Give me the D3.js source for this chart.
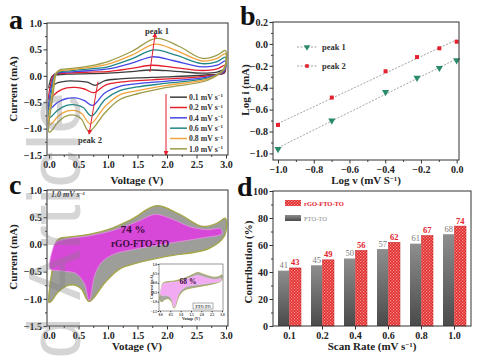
<!DOCTYPE html>
<html><head><meta charset="utf-8">
<script src="https://cdn.jsdelivr.net/npm/d3@7"></script>
<style>body{margin:0;background:#fff}svg{display:block}</style></head>
<body><svg id="fig" width="484" height="362"></svg>
<script>
// ---------- DATA ----------
const scanRates = ["0.1", "0.2", "0.4", "0.6", "0.8", "1.0"];
const cvColors = ["#3c3c3c", "#e4202c", "#4646e6", "#1f8686", "#f0a43c", "#9c9c48"];
// CV loops (V, mA), anodic sweep 0 -> 3 V then cathodic back
const cv01 = [[0.0,-0.23],[0.02,-0.1],[0.06,0.0],[0.15,0.02],[0.3,0.03],[0.7,0.04],[1.0,0.05],[1.4,0.08],[1.72,0.11],[2.1,0.09],[2.6,0.05],[2.85,0.07],[2.99,0.12],[2.97,0.05],[2.7,0.02],[2.0,-0.02],[1.5,-0.04],[1.2,-0.06],[0.95,-0.09],[0.78,-0.18],[0.65,-0.12],[0.45,-0.1],[0.3,-0.1],[0.15,-0.13],[0.05,-0.2]];
const cv02 = [[0.0,-0.45],[0.03,-0.15],[0.08,0.02],[0.15,0.04],[0.3,0.05],[0.7,0.07],[1.0,0.08],[1.4,0.14],[1.74,0.2],[2.1,0.16],[2.6,0.1],[2.85,0.13],[2.99,0.2],[2.97,0.07],[2.7,0.0],[2.0,-0.06],[1.5,-0.09],[1.2,-0.12],[0.95,-0.18],[0.76,-0.32],[0.6,-0.25],[0.45,-0.22],[0.3,-0.23],[0.15,-0.3],[0.05,-0.4]];
const cv04 = [[0.0,-0.64],[0.04,-0.2],[0.1,0.03],[0.18,0.06],[0.3,0.07],[0.7,0.1],[1.0,0.13],[1.4,0.24],[1.76,0.36],[2.1,0.29],[2.6,0.17],[2.85,0.2],[2.99,0.28],[2.97,0.09],[2.7,-0.02],[2.0,-0.1],[1.5,-0.15],[1.2,-0.2],[0.95,-0.32],[0.74,-0.56],[0.6,-0.47],[0.45,-0.42],[0.3,-0.43],[0.15,-0.5],[0.05,-0.6]];
const cv06 = [[0.0,-0.8],[0.05,-0.25],[0.11,0.04],[0.2,0.08],[0.3,0.09],[0.7,0.13],[1.0,0.17],[1.4,0.32],[1.78,0.49],[2.15,0.39],[2.6,0.23],[2.85,0.27],[2.99,0.35],[2.97,0.11],[2.7,-0.04],[2.0,-0.14],[1.5,-0.21],[1.2,-0.28],[0.95,-0.45],[0.72,-0.76],[0.58,-0.6],[0.45,-0.55],[0.3,-0.56],[0.15,-0.65],[0.05,-0.76]];
const cv08 = [[0.0,-0.93],[0.06,-0.3],[0.12,0.05],[0.2,0.1],[0.3,0.11],[0.7,0.16],[1.0,0.22],[1.4,0.39],[1.8,0.6],[2.15,0.48],[2.6,0.28],[2.85,0.33],[2.99,0.42],[2.97,0.13],[2.7,-0.06],[2.0,-0.18],[1.5,-0.28],[1.2,-0.36],[0.95,-0.58],[0.7,-0.91],[0.56,-0.72],[0.45,-0.66],[0.3,-0.67],[0.15,-0.77],[0.05,-0.9]];
const cv10 = [[0.0,-1.07],[0.07,-0.35],[0.13,0.06],[0.2,0.12],[0.3,0.13],[0.7,0.19],[1.0,0.27],[1.4,0.46],[1.82,0.71],[2.2,0.56],[2.6,0.33],[2.85,0.39],[2.99,0.48],[2.97,0.15],[2.7,-0.08],[2.0,-0.22],[1.5,-0.34],[1.2,-0.45],[0.95,-0.7],[0.68,-1.05],[0.55,-0.82],[0.45,-0.75],[0.3,-0.76],[0.15,-0.88],[0.05,-1.03]];
const cvLoops = [cv01, cv02, cv04, cv06, cv08, cv10];
const peak1Arrow = [[1.71,0.07],[1.8,0.8]];
const peak2Arrow = [[0.83,-0.11],[0.68,-1.1]];

// panel b
const logV = [-1.0, -0.699, -0.398, -0.222, -0.097, 0.0];
const logIPeak1 = [-0.96, -0.70, -0.44, -0.31, -0.22, -0.15];
const logIPeak2 = [-0.74, -0.49, -0.25, -0.12, -0.04, 0.02];

// panel c (1.0 mV/s): total = cv10, capacitive part of rGO-FTO-TO
const capRgo = [[0.02,-0.45],[0.06,-0.1],[0.12,0.04],[0.3,0.1],[0.7,0.16],[1.1,0.26],[1.5,0.42],[1.8,0.55],[2.1,0.46],[2.4,0.32],[2.7,0.27],[2.9,0.29],[2.93,0.2],[2.6,0.12],[2.2,0.05],[1.8,-0.02],[1.4,-0.1],[1.1,-0.18],[0.9,-0.32],[0.78,-0.55],[0.68,-1.03],[0.6,-0.72],[0.45,-0.53],[0.3,-0.5],[0.15,-0.48]];
const insetTotal = [[0.0,-0.95],[0.06,-0.35],[0.14,-0.02],[0.3,0.05],[0.7,0.1],[1.2,0.25],[1.6,0.45],[1.82,0.55],[2.2,0.42],[2.6,0.3],[2.85,0.33],[2.99,0.42],[2.97,0.12],[2.7,-0.02],[2.0,-0.18],[1.5,-0.28],[1.2,-0.38],[0.95,-0.65],[0.68,-1.35],[0.55,-1.0],[0.4,-0.85],[0.25,-0.88],[0.1,-1.0]];
const insetCap = [[0.03,-0.65],[0.08,-0.2],[0.16,-0.05],[0.4,0.0],[0.8,0.05],[1.2,0.17],[1.6,0.33],[1.82,0.4],[2.2,0.28],[2.6,0.18],[2.85,0.2],[2.95,0.25],[2.93,0.1],[2.6,0.02],[2.0,-0.08],[1.5,-0.15],[1.2,-0.25],[0.95,-0.5],[0.68,-1.3],[0.55,-0.85],[0.4,-0.7],[0.25,-0.68],[0.1,-0.68]];

// panel d
const rateCats = ["0.1", "0.2", "0.4", "0.6", "0.8", "1.0"];
const contribFTO = [41, 45, 50, 57, 61, 68];
const contribRGO = [43, 49, 56, 62, 67, 74];

// ---------- DRAW ----------
const FONT = "'Liberation Serif','Times New Roman',serif";
const svg = d3.select("#fig").attr("font-family", FONT);
const defs = svg.append("defs");
const f1 = d3.format(".1f");

defs.append("marker").attr("id","arr").attr("viewBox","0 0 10 10").attr("refX",8).attr("refY",5)
  .attr("markerWidth",5).attr("markerHeight",5).attr("orient","auto-start-reverse")
  .append("path").attr("d","M0,0L10,5L0,10z").attr("fill","#e4202c");
const pat = defs.append("pattern").attr("id","chk").attr("width",3).attr("height",3).attr("patternUnits","userSpaceOnUse");
pat.append("rect").attr("width",3).attr("height",3).attr("fill","#e22a2a");
pat.append("rect").attr("width",1.2).attr("height",1.2).attr("fill","#f59a9a");
pat.append("rect").attr("x",1.5).attr("y",1.5).attr("width",1.2).attr("height",1.2).attr("fill","#f59a9a");
const grad = defs.append("linearGradient").attr("id","gry").attr("x1",0).attr("y1",0).attr("x2",0).attr("y2",1);
grad.append("stop").attr("offset","0%").attr("stop-color","#8e8e8e");
grad.append("stop").attr("offset","100%").attr("stop-color","#4a4a4a");

function drawAxes(g, x, y, o) {
  const [xa, xb] = x.range(), [ya, yb] = y.range();
  const fs = o.fs || 10;
  const tl = o.tl || 3.5;
  if (o.xMinor) g.append("g").attr("transform",`translate(0,${ya})`)
    .call(d3.axisBottom(x).tickValues(o.xMinor).tickSize(tl*0.55).tickFormat(""))
    .call(s=>s.select(".domain").remove());
  if (o.yMinor) g.append("g").attr("transform",`translate(${xa},0)`)
    .call(d3.axisLeft(y).tickValues(o.yMinor).tickSize(tl*0.55).tickFormat(""))
    .call(s=>s.select(".domain").remove());
  const gx = g.append("g").attr("transform",`translate(0,${ya})`)
    .call(d3.axisBottom(x).tickValues(o.xTicks).tickSize(tl).tickPadding(o.pad||2).tickFormat(o.xFmt));
  const gy = g.append("g").attr("transform",`translate(${xa},0)`)
    .call(d3.axisLeft(y).tickValues(o.yTicks).tickSize(tl).tickPadding(o.pad||1.5).tickFormat(o.yFmt));
  [gx, gy].forEach(s => {
    s.select(".domain").remove();
    s.selectAll("text").attr("font-family", FONT).attr("font-weight","bold").attr("font-size", fs).attr("fill","#222");
  });
  g.selectAll(".tick line").attr("stroke","#333").attr("stroke-width", o.sw || 1);
  g.append("rect").attr("x",xa).attr("y",yb).attr("width",xb-xa).attr("height",ya-yb)
    .attr("fill","none").attr("stroke","#333").attr("stroke-width", o.sw || 1);
}
function title(g, txt, x, y, rot, size, sup, after) {
  const t = g.append("text").attr("transform",`translate(${x},${y})${rot?" rotate(-90)":""}`)
    .attr("text-anchor","middle").attr("font-weight","bold").attr("font-size",size||11).attr("fill","#222");
  t.append("tspan").text(txt);
  if (sup) {
    t.append("tspan").text(sup).attr("dy",-3.5).attr("font-size",(size||11)*0.62);
    t.append("tspan").text(after).attr("dy",3.5);
  }
  return t;
}
function letter(txt, x, y) {
  svg.append("text").attr("x",x).attr("y",y).text(txt).attr("font-size",28).attr("font-weight","bold").attr("fill","#111");
}
const loop = (x, y) => d3.line().x(d=>x(d[0])).y(d=>y(d[1])).curve(d3.curveCatmullRomClosed.alpha(0.5));
const vTicks = [0,0.5,1,1.5,2,2.5,3], vMinor = d3.range(0.25,3,0.5);
const iTicks = [-1.5,-1,-0.5,0,0.5,1], iMinor = d3.range(-1.25,1,0.5);

// ===== Panel a =====
{
  const g = svg.append("g");
  const x = d3.scaleLinear().domain([-0.034,3.034]).range([47,228]);
  const y = d3.scaleLinear().domain([-1.5,1.0]).range([155,23]);
  const ln = loop(x,y);
  cvLoops.forEach((d,i)=> g.append("path").attr("d",ln(d)).attr("fill","none").attr("stroke",cvColors[i]).attr("stroke-width",1.3));
  [peak1Arrow, peak2Arrow].forEach(a => g.append("line")
    .attr("x1",x(a[0][0])).attr("y1",y(a[0][1])).attr("x2",x(a[1][0])).attr("y2",y(a[1][1]))
    .attr("stroke","#e4202c").attr("stroke-width",1).attr("marker-end","url(#arr)"));
  g.append("text").attr("x",157).attr("y",34).attr("text-anchor","middle").attr("font-size",8.5).attr("font-weight","bold").attr("fill","#333").text("peak 1");
  g.append("text").attr("x",90).attr("y",143).attr("text-anchor","middle").attr("font-size",8.5).attr("font-weight","bold").attr("fill","#333").text("peak 2");
  const ly = d3.scaleBand().domain(scanRates).range([92,154]);
  g.append("line").attr("x1",166).attr("x2",166).attr("y1",ly(scanRates[0])+2).attr("y2",ly(scanRates[5])+ly.bandwidth()+1)
    .attr("stroke","#e4202c").attr("stroke-width",1).attr("marker-end","url(#arr)");
  scanRates.forEach((r,i)=>{
    const yy = ly(r)+ly.bandwidth()/2;
    g.append("line").attr("x1",170).attr("x2",187).attr("y1",yy).attr("y2",yy).attr("stroke",cvColors[i]).attr("stroke-width",1.5);
    const t = g.append("text").attr("x",189).attr("y",yy+2.8).attr("font-size",7.8).attr("font-weight","bold").attr("fill","#333");
    t.append("tspan").text(r+" mV s");
    t.append("tspan").text("−1").attr("dy",-2.5).attr("font-size",5);
  });
  drawAxes(g,x,y,{xTicks:vTicks,xMinor:vMinor,yTicks:iTicks,yMinor:iMinor,xFmt:f1,yFmt:f1});
  title(g,"Current (mA)",17,89,true);
  title(g,"Voltage (V)",137,184,false);
}
letter("a",9,29);

// ===== Panel b =====
{
  const g = svg.append("g");
  const x = d3.scaleLinear().domain([-1.028,0.013]).range([273,459]);
  const y = d3.scaleLinear().domain([-1.06,0.2]).range([160,22]);
  const series = [
    {vals: logIPeak1, color:"#2a8a6c", sym:d3.symbolTriangle, rot:180, size:22, name:"peak 1"},
    {vals: logIPeak2, color:"#e4202c", sym:d3.symbolSquare, rot:0, size:16, name:"peak 2"}
  ];
  series.forEach((s,k)=>{
    const mx = d3.mean(logV), my = d3.mean(s.vals);
    const b = d3.sum(logV,(v,i)=>(v-mx)*(s.vals[i]-my)) / d3.sum(logV,v=>(v-mx)*(v-mx));
    const a = my - b*mx;
    g.append("line").attr("x1",x(-1)).attr("x2",x(0)).attr("y1",y(a-b)).attr("y2",y(a))
      .attr("stroke","#9a9a9a").attr("stroke-width",0.9).attr("stroke-dasharray","2,1.5");
    logV.forEach((v,i)=> g.append("path").attr("d",d3.symbol(s.sym,s.size)())
      .attr("transform",`translate(${x(v)},${y(s.vals[i])}) rotate(${s.rot})`).attr("fill",s.color));
    const yy = 47 + k*19;
    g.append("line").attr("x1",297).attr("x2",317).attr("y1",yy).attr("y2",yy).attr("stroke","#9a9a9a").attr("stroke-width",0.9).attr("stroke-dasharray","2,1.5");
    g.append("path").attr("d",d3.symbol(s.sym,s.size*0.8)()).attr("transform",`translate(307,${yy}) rotate(${s.rot})`).attr("fill",s.color);
    g.append("text").attr("x",322).attr("y",yy+3).attr("font-size",8.5).attr("font-weight","bold").attr("fill","#333").text(s.name);
  });
  drawAxes(g,x,y,{xTicks:d3.range(-1,0.01,0.2),xMinor:d3.range(-0.9,0,0.2),yTicks:d3.range(-1,0.21,0.2),yMinor:d3.range(-0.9,0.2,0.2),xFmt:f1,yFmt:f1});
  title(g,"Log i (mA)",249,90,true);
  title(g,"Log v (mV S",366,184,false,11,"−1",")");
}
letter("b",240,25);

// ===== Panel c =====
{
  const g = svg.append("g");
  const x = d3.scaleLinear().domain([-0.034,3.034]).range([47,228]);
  const y = d3.scaleLinear().domain([-1.5,1.0]).range([326,190]);
  const ln = loop(x,y);
  g.append("path").attr("d",ln(cv10)).attr("fill","#9d9d9a").attr("stroke","#a6a64a").attr("stroke-width",1.4);
  g.append("path").attr("d",ln(capRgo)).attr("fill","#d848d8").attr("stroke","#e890e8").attr("stroke-width",0.8);
  g.append("text").attr("x",133).attr("y",233).attr("text-anchor","middle").attr("font-size",11).attr("font-weight","bold").attr("fill","#3a0c3a").text("74 %");
  g.append("text").attr("x",140).attr("y",247).attr("text-anchor","middle").attr("font-size",9.5).attr("font-weight","bold").attr("fill","#3a0c3a").text("rGO-FTO-TO");
  const t = g.append("text").attr("x",51).attr("y",197).attr("font-size",8).attr("font-weight","bold").attr("font-style","italic").attr("fill","#333");
  t.append("tspan").text("1.0 mV s");
  t.append("tspan").text("−1").attr("dy",-2.5).attr("font-size",5);
  const ix = d3.scaleLinear().domain([-0.05,3.05]).range([159,223]);
  const iy = d3.scaleLinear().domain([-1.5,1.0]).range([311,264]);
  g.append("rect").attr("x",159).attr("y",264).attr("width",64).attr("height",47).attr("fill","#fff");
  const iln = loop(ix,iy);
  g.append("path").attr("d",iln(insetTotal)).attr("fill","#a8a8a4").attr("stroke","#a6a64a").attr("stroke-width",0.8);
  g.append("path").attr("d",iln(insetCap)).attr("fill","#f2aaf2").attr("stroke","#f6c8f6").attr("stroke-width",0.5);
  g.append("text").attr("x",188).attr("y",284).attr("text-anchor","middle").attr("font-size",7.5).attr("font-weight","bold").attr("fill","#3a0c3a").text("68 %");
  g.append("rect").attr("x",193).attr("y",303).attr("width",20).attr("height",6).attr("fill","#fff").attr("stroke","#333").attr("stroke-width",0.4);
  g.append("text").attr("x",203).attr("y",307.8).attr("text-anchor","middle").attr("font-size",4).attr("font-weight","bold").attr("fill","#333").text("FTO-TO");
  drawAxes(g.append("g"),ix,iy,{xTicks:vTicks,yTicks:iTicks,xFmt:f1,yFmt:f1,fs:3.4,tl:1.3,sw:0.5,pad:0.8});
  title(g,"Current (mA)",153,287,true,4);
  title(g,"Votage (V)",191,320,false,4);
  drawAxes(g,x,y,{xTicks:vTicks,xMinor:vMinor,yTicks:iTicks,yMinor:iMinor,xFmt:f1,yFmt:f1});
  title(g,"Current (mA)",17,257,true);
  title(g,"Votage (V)",137,350,false);
}
letter("c",9,194);

// ===== Panel d =====
{
  const g = svg.append("g");
  const x = d3.scaleBand().domain(rateCats).range([273,471]);
  const y = d3.scaleLinear().domain([0,100]).range([326,191]);
  const sub = d3.scaleBand().domain(["FTO","RGO"]).range([-11.5,11.5]);
  rateCats.forEach((c,i)=>{
    const cx = x(c)+x.bandwidth()/2;
    g.append("rect").attr("x",cx+sub("FTO")).attr("y",y(contribFTO[i])).attr("width",sub.bandwidth()-0.5).attr("height",y(0)-y(contribFTO[i]))
      .attr("fill","url(#gry)");
    g.append("rect").attr("x",cx+sub("RGO")).attr("y",y(contribRGO[i])).attr("width",sub.bandwidth()).attr("height",y(0)-y(contribRGO[i]))
      .attr("fill","url(#chk)").attr("stroke","#c01c1c").attr("stroke-width",0.5);
    g.append("text").attr("x",cx+sub("FTO")+sub.bandwidth()/2).attr("y",y(contribFTO[i])-2.5).attr("text-anchor","middle")
      .attr("font-size",8.5).attr("fill","#7a7a7a").text(contribFTO[i]);
    g.append("text").attr("x",cx+sub("RGO")+sub.bandwidth()/2).attr("y",y(contribRGO[i])-2.5).attr("text-anchor","middle")
      .attr("font-size",8.5).attr("font-weight","bold").attr("fill","#e4202c").text(contribRGO[i]);
  });
  g.append("rect").attr("x",285).attr("y",200).attr("width",16).attr("height",6).attr("fill","url(#chk)");
  g.append("text").attr("x",304).attr("y",205.5).attr("font-size",6.5).attr("font-weight","bold").attr("fill","#e4202c").text("rGO-FTO-TO");
  g.append("rect").attr("x",285).attr("y",215).attr("width",16).attr("height",6).attr("fill","url(#gry)");
  g.append("text").attr("x",304).attr("y",220.5).attr("font-size",6.5).attr("fill","#8a8a8a").text("FTO-TO");
  drawAxes(g,x,y,{xTicks:rateCats,yTicks:d3.range(0,101,20),yMinor:d3.range(10,100,20),xFmt:d=>d,yFmt:d3.format("d")});
  title(g,"Contribution (%)",252,262,true);
  title(g,"Scan Rate (mV s",372,350,false,11,"−1",")");
}
letter("d",237,196);

// watermark
svg.append("text").attr("transform","translate(80,92) rotate(-90)").attr("text-anchor","end")
  .attr("font-family","'Liberation Sans',Arial,sans-serif").attr("font-size",75).attr("fill","#808080").attr("opacity",0.32)
  .text("Accepted Article");
</script></body></html>
